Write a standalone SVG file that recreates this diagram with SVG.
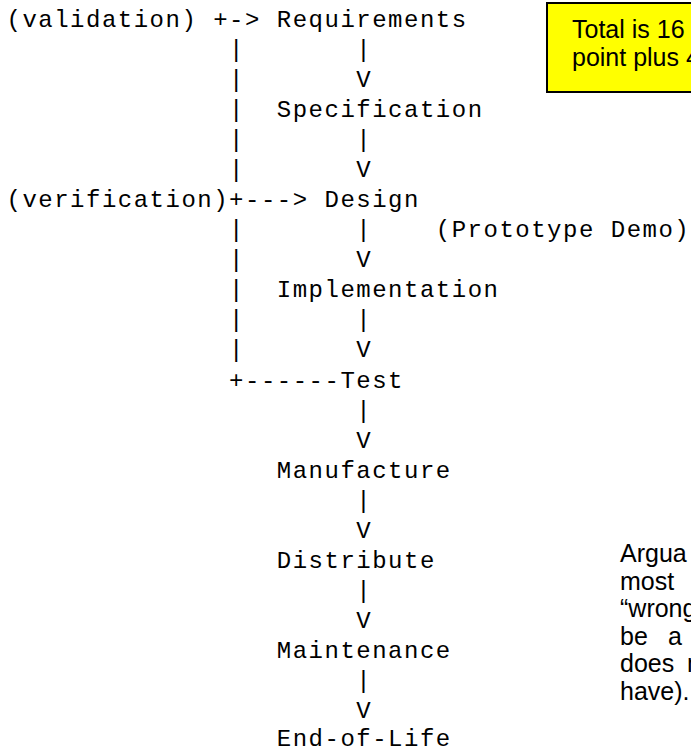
<svg xmlns="http://www.w3.org/2000/svg" width="691" height="752" viewBox="0 0 691 752">
<style>
  .m { font-family: "Liberation Mono", "Courier New", monospace; font-size: 24px; letter-spacing: 1.5px; fill: #000; }
  .s { font-family: "Liberation Sans", Arial, sans-serif; font-size: 25px; fill: #000; }
  .p { font-family: "Liberation Sans", Arial, sans-serif; font-size: 25px; fill: #000; }
</style>
<rect width="691" height="752" fill="#fff"/>

<g id="connectors">
  <text class="m"><tspan x="213.2" y="26.5">+-&gt;</tspan><tspan x="229.1" y="207.0">+---&gt;</tspan><tspan x="229.1" y="387.5">+------</tspan></text>
  <text class="m"><tspan x="229.1" y="56.6">|</tspan><tspan x="229.1" y="86.7">|</tspan><tspan x="229.1" y="116.7">|</tspan><tspan x="229.1" y="146.8">|</tspan><tspan x="229.1" y="176.9">|</tspan><tspan x="229.1" y="237.1">|</tspan><tspan x="229.1" y="267.1">|</tspan><tspan x="229.1" y="297.2">|</tspan><tspan x="229.1" y="327.3">|</tspan><tspan x="229.1" y="357.4">|</tspan></text>
  <text class="m"><tspan x="356.3" y="56.6">|</tspan><tspan x="356.3" y="86.7">V</tspan><tspan x="356.3" y="146.8">|</tspan><tspan x="356.3" y="176.9">V</tspan><tspan x="356.3" y="237.1">|</tspan><tspan x="356.3" y="267.1">V</tspan><tspan x="356.3" y="327.3">|</tspan><tspan x="356.3" y="357.4">V</tspan><tspan x="356.3" y="417.5">|</tspan><tspan x="356.3" y="447.6">V</tspan><tspan x="356.3" y="507.8">|</tspan><tspan x="356.3" y="537.9">V</tspan><tspan x="356.3" y="598.0">|</tspan><tspan x="356.3" y="628.1">V</tspan><tspan x="356.3" y="688.3">|</tspan><tspan x="356.3" y="718.3">V</tspan></text>
</g>

<g id="validation"><text class="m" x="6.5" y="26.5">(validation)</text></g>
<g id="verification"><text class="m" x="6.5" y="207.0">(verification)</text></g>
<g id="requirements"><text class="m" x="276.8" y="26.5">Requirements</text></g>
<g id="specification"><text class="m" x="276.8" y="116.7">Specification</text></g>
<g id="design"><text class="m" x="324.5" y="207.0">Design</text></g>
<g id="prototype-demo"><text class="m" x="435.8" y="237.1">(Prototype Demo)</text></g>
<g id="implementation"><text class="m" x="276.8" y="297.2">Implementation</text></g>
<g id="test"><text class="m" x="340.4" y="387.5">Test</text></g>
<g id="manufacture"><text class="m" x="276.8" y="477.7">Manufacture</text></g>
<g id="distribute"><text class="m" x="276.8" y="567.9">Distribute</text></g>
<g id="maintenance"><text class="m" x="276.8" y="658.2">Maintenance</text></g>
<g id="end-of-life"><text class="m" x="276.8" y="746">End-of-Life</text></g>

<g id="note-box">
  <rect x="547" y="3" width="200" height="89" fill="#ffff00" stroke="#000" stroke-width="2"/>
  <text class="s" x="572" y="38">Total is 16</text>
  <text class="s" x="572" y="66">point plus 4</text>
</g>

<g id="note-text">
  <text class="p" x="620" y="562">Argua</text>
  <text class="p" x="620" y="589.5">most</text>
  <text class="p" x="620" y="617">“wrong</text>
  <text class="p" x="620" y="644.5">be<tspan x="668">a</tspan></text>
  <text class="p" x="620" y="672">does<tspan x="687">n</tspan></text>
  <text class="p" x="620" y="699.5">have).</text>
</g>
</svg>
